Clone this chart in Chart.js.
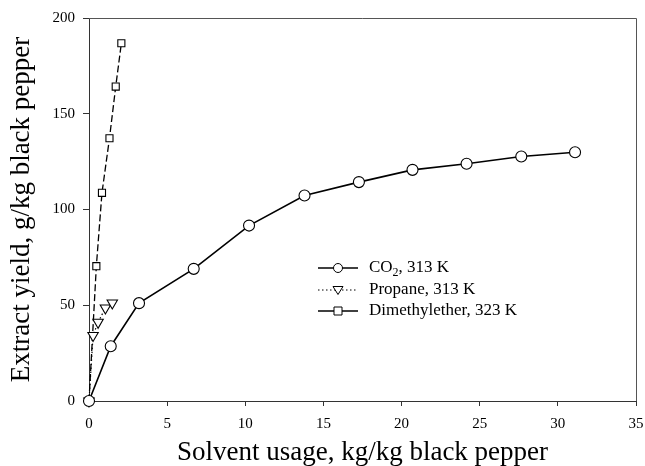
<!DOCTYPE html>
<html>
<head>
<meta charset="utf-8">
<script src="https://cdn.jsdelivr.net/npm/chart.js@4"></script>
<style>
html,body{margin:0;padding:0;background:#fff;}
#wrap{width:645px;height:466px;}
</style>
</head>
<body>
<div id="wrap"><canvas id="c" width="645" height="466"></canvas></div>
<script>
// Data
const co2X = [0, 1.39, 3.20, 6.70, 10.24, 13.79, 17.27, 20.70, 24.16, 27.66, 31.10];
const co2Y = [0, 28.6, 51.1, 69.0, 91.6, 107.3, 114.3, 120.7, 123.9, 127.7, 129.9];
const propaneX = [0, 0.26, 0.58, 1.05, 1.49];
const propaneY = [0, 34.2, 41.1, 48.6, 51.2];
const dmeX = [0, 0.47, 0.83, 1.31, 1.71, 2.07];
const dmeY = [0, 70.4, 108.7, 137.2, 164.2, 186.8];
const seriesLabels = ['CO2, 313 K', 'Propane, 313 K', 'Dimethylether, 323 K'];
const xTicks = [0, 5, 10, 15, 20, 25, 30, 35];
const yTicks = [0, 50, 100, 150, 200];
const xTitle = 'Solvent usage, kg/kg black pepper';
const yTitle = 'Extract yield, g/kg black pepper';

const SERIF = '"Liberation Serif", "Times New Roman", serif';
const pts = (xs, ys) => xs.map((x, i) => ({x: x, y: ys[i]}));

const frame = {
  id: 'frame',
  afterDatasetsDraw(chart) {
    const a = chart.chartArea, ctx = chart.ctx;
    ctx.save();
    ctx.strokeStyle = '#555';
    ctx.lineWidth = 1;
    ctx.beginPath();
    ctx.moveTo(a.left, a.top + 0.5);
    ctx.lineTo(a.right + 0.5, a.top + 0.5);
    ctx.lineTo(a.right + 0.5, a.bottom);
    ctx.stroke();
    ctx.restore();
  }
};

const legendPlugin = {
  id: 'inlegend',
  afterDraw(chart) {
    const ctx = chart.ctx;
    const x0 = 318, x1 = 358, tx = 369;
    const rows = [268, 290, 311];
    ctx.save();
    chart.data.datasets.forEach((ds, i) => {
      const y = rows[i];
      ctx.strokeStyle = '#000';
      ctx.lineWidth = i === 1 ? 1.2 : 1.6;
      ctx.setLineDash(i === 1 ? [1.5, 2.5] : []);
      ctx.beginPath();
      ctx.moveTo(x0, y); ctx.lineTo(x1, y); ctx.stroke();
      ctx.setLineDash([]);
      ctx.lineWidth = 1;
      ctx.fillStyle = '#fff';
      const cx = (x0 + x1) / 2;
      ctx.beginPath();
      if (i === 0) {
        ctx.arc(cx, y, 4.5, 0, Math.PI * 2);
      } else if (i === 1) {
        ctx.moveTo(cx - 5, y - 3.5); ctx.lineTo(cx + 5, y - 3.5); ctx.lineTo(cx, y + 4.5); ctx.closePath();
      } else {
        ctx.rect(cx - 4, y - 4, 8, 8);
      }
      ctx.fill(); ctx.stroke();
      ctx.fillStyle = '#000';
      ctx.font = '17px ' + SERIF;
      ctx.textBaseline = 'middle';
      ctx.textAlign = 'left';
      const lab = ds.label;
      if (lab.startsWith('CO2')) {
        ctx.fillText('CO', tx, y);
        let w = ctx.measureText('CO').width;
        ctx.font = '12px ' + SERIF;
        ctx.fillText('2', tx + w, y + 5);
        const w2 = ctx.measureText('2').width;
        ctx.font = '17px ' + SERIF;
        ctx.fillText(lab.slice(3), tx + w + w2, y);
      } else {
        ctx.fillText(lab, tx, y);
      }
    });
    ctx.restore();
  }
};

new Chart(document.getElementById('c'), {
  type: 'scatter',
  data: {
    datasets: [
      {label: seriesLabels[0], data: pts(co2X, co2Y), showLine: true, borderColor: '#000', borderWidth: 1.6,
       pointStyle: 'circle', pointRadius: 5.5, pointBorderWidth: 1.1, pointBackgroundColor: '#fff', pointBorderColor: '#000'},
      {label: seriesLabels[1], data: pts(propaneX, propaneY), showLine: true, borderColor: '#000', borderWidth: 1.2,
       borderDash: [1.5, 2.5], pointStyle: 'triangle', rotation: 180, pointRadius: 6, pointBorderWidth: 1.1,
       pointBackgroundColor: '#fff', pointBorderColor: '#000'},
      {label: seriesLabels[2], data: pts(dmeX, dmeY), showLine: true, borderColor: '#000', borderWidth: 1.3,
       borderDash: [7, 3], pointStyle: 'rect', pointRadius: 5, pointBorderWidth: 1.1,
       pointBackgroundColor: '#fff', pointBorderColor: '#000'}
    ]
  },
  options: {
    responsive: false,
    animation: false,
    clip: false,
    layout: {padding: {top: 18, right: 9, left: 0, bottom: 0}},
    plugins: {legend: {display: false}, tooltip: {enabled: false}},
    scales: {
      x: {
        type: 'linear', min: 0, max: 35,
        afterBuildTicks: s => { s.ticks = xTicks.map(v => ({value: v})); },
        afterFit: s => { s.height = 65; s.paddingLeft = 0; s.paddingRight = 0; },
        grid: {drawOnChartArea: false, drawTicks: true, tickLength: 5, color: '#333'},
        border: {display: true, color: '#333', width: 1},
        ticks: {color: '#000', font: {family: SERIF, size: 15}, padding: 9, maxRotation: 0},
        title: {display: true, text: xTitle, color: '#000', font: {family: SERIF, size: 27, lineHeight: 1.0}, padding: {top: 0, bottom: 0}}
      },
      y: {
        type: 'linear', min: 0, max: 200,
        afterBuildTicks: s => { s.ticks = yTicks.map(v => ({value: v})); },
        afterFit: s => { s.width = 89; s.paddingTop = 0; s.paddingBottom = 0; },
        grid: {drawOnChartArea: false, drawTicks: true, tickLength: 6, color: '#333'},
        border: {display: true, color: '#333', width: 1},
        ticks: {color: '#000', font: {family: SERIF, size: 15}, padding: 8},
        title: {display: true, text: yTitle, color: '#000', font: {family: SERIF, size: 27}, padding: {top: 6, bottom: 0}}
      }
    }
  },
  plugins: [frame, legendPlugin]
});
</script>
</body>
</html>
